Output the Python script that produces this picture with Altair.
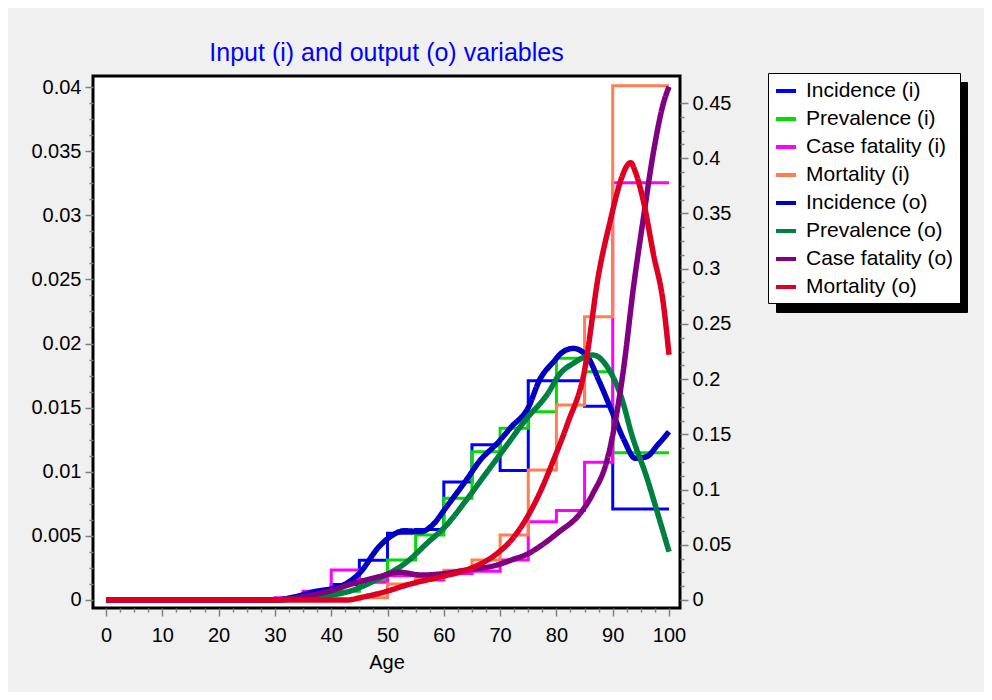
import altair as alt
import pandas as pd

names = ['Incidence (i)', 'Prevalence (i)', 'Case fatality (i)', 'Mortality (i)',
         'Incidence (o)', 'Prevalence (o)', 'Case fatality (o)', 'Mortality (o)']
colors = ['#0000ff', '#00dd00', '#ff00ff', '#ff7f50',
          '#0000c0', '#008040', '#800080', '#dd0022']

# input variables, 5-year age groups (last group 90-100), step lines
grp_age = [0, 5, 10, 15, 20, 25, 30, 35, 40, 45, 50, 55, 60, 65, 70, 75, 80, 85, 90, 100]
inc_i = [0, 0, 0, 0, 0, 0, 0.0001, 0.0005, 0.0012, 0.0031, 0.0052, 0.0055, 0.0092,
         0.0121, 0.0101, 0.0171, 0.0171, 0.0151, 0.0071, 0.0071]
prev_i = [0, 0, 0, 0, 0, 0, 0.001, 0.003, 0.008, 0.0185, 0.0362, 0.0589, 0.0921,
          0.1343, 0.1554, 0.1705, 0.2188, 0.2067, 0.1334, 0.1334]
cf_i = [0, 0, 0, 0, 0, 0, 0.002, 0.008, 0.0272, 0.016, 0.022, 0.018, 0.024,
        0.026, 0.0362, 0.0709, 0.081, 0.1247, 0.3779, 0.3779]
mort_i = [0, 0, 0, 0, 0, 0, 0, 0, 0, 0.002, 0.0145, 0.02, 0.027,
          0.0362, 0.0589, 0.1177, 0.1766, 0.2565, 0.4657, 0.4657]

# output variables
inc_o_age = [0, 30, 33, 37, 41.5, 45, 48.5, 50.5, 53, 56, 58, 60.5, 64, 66.5, 69.5,
             72, 75, 77, 79.5, 81, 83, 85.5, 87.5, 90, 92, 94, 96, 98, 100]
inc_o = [0, 0, 0.0002, 0.00065, 0.00104, 0.00208, 0.00416, 0.00494, 0.0054, 0.00533,
         0.00585, 0.00728, 0.00936, 0.01092, 0.01222, 0.0135, 0.015, 0.01715, 0.01858,
         0.0193, 0.01962, 0.01897, 0.01715, 0.01456, 0.01248, 0.01105, 0.01117, 0.0121, 0.01312]

prev_o_age = [0, 30, 33, 37, 43, 48.5, 53.5, 57, 60.5, 64, 67.5, 71, 74.5, 78.5, 80.5,
              83, 86.5, 89, 91.5, 93.5, 96, 98.5, 100]
prev_o = [0, 0, 0.001, 0.003, 0.0075, 0.0196, 0.0347, 0.0513, 0.0679, 0.0905, 0.1147,
          0.1388, 0.163, 0.1871, 0.204, 0.2143, 0.2218, 0.2113, 0.1841, 0.1479, 0.1117,
          0.0695, 0.0437]

cf_o_age = [0, 30, 35, 38, 40, 44, 48.5, 52, 56, 60.5, 64, 69.5, 72, 75, 77, 80.5,
            84, 86.5, 89, 91.9, 93.7, 95.4, 97.2, 99, 100]
cf_o = [0, 0, 0.003, 0.006, 0.0085, 0.0151, 0.0211, 0.0252, 0.0226, 0.0242, 0.0272,
        0.0317, 0.0362, 0.042, 0.0483, 0.0618, 0.077, 0.0966, 0.1268, 0.2083, 0.2837,
        0.3441, 0.4045, 0.4497, 0.4648]

mort_o_age = [0, 43, 45, 48.5, 54.5, 59.5, 64, 69.5, 72, 74.5, 77, 79.5, 82, 85, 87.5,
              89.5, 91.5, 92.5, 93.2, 94, 95.5, 97.2, 99, 100]
mort_o = [0, 0, 0.002, 0.006, 0.0151, 0.0211, 0.0272, 0.0423, 0.0543, 0.0724, 0.0966,
          0.1268, 0.16, 0.208, 0.295, 0.342, 0.381, 0.393, 0.396, 0.388, 0.36, 0.314,
          0.268, 0.222]


def frame(name, ages, vals):
    # 'shadow' repeats the name with a zero-width mark so its legend stays separate
    return pd.DataFrame({'age': ages, 'value': vals, 'series': name,
                         'shadow': name + '\u200b'})


in_left = frame('Incidence (i)', grp_age, inc_i)
in_right = pd.concat([frame('Prevalence (i)', grp_age, prev_i),
                      frame('Case fatality (i)', grp_age, cf_i),
                      frame('Mortality (i)', grp_age, mort_i)])
out_left = frame('Incidence (o)', inc_o_age, inc_o)
out_right = pd.concat([frame('Prevalence (o)', prev_o_age, prev_o),
                       frame('Case fatality (o)', cf_o_age, cf_o),
                       frame('Mortality (o)', mort_o_age, mort_o)])

FONT = 'Liberation Sans'

x_scale = alt.Scale(domain=[-2.31, 101.95], nice=False, zero=False)
yl_scale = alt.Scale(domain=[-0.000624, 0.040858], nice=False, zero=False)
yr_scale = alt.Scale(domain=[-0.00725, 0.47446], nice=False, zero=False)


def tick_axis(orient, values, major, fmt, title=None, pad=4, tpad=4):
    test = 'abs(datum.value * %s - round(datum.value * %s)) < 1e-6' % (major, major)
    return alt.Axis(orient=orient, values=values, format=fmt, title=title,
                    labelExpr="(%s) ? datum.label : ''" % test,
                    tickSize={'condition': {'test': test, 'value': 8}, 'value': 4},
                    tickColor='#808080', tickWidth=1.5, domain=False, grid=False,
                    labelFont=FONT, labelFontSize=20, labelColor='black', labelPadding=pad,
                    labelOverlap=False, labelFlush=False,
                    titleFont=FONT, titleFontSize=20, titleFontWeight='normal',
                    titleColor='black', titlePadding=tpad)


x_axis = tick_axis('bottom', [i * 2.5 for i in range(41)], 0.1, 'd', 'Age', pad=9, tpad=7)
left_axis = tick_axis('left', [round(i * 0.00125, 5) for i in range(33)], 200, '.3~f')
right_axis = tick_axis('right', [round(i * 0.0125, 4) for i in range(37)], 20, '.2~f')

legend_style = dict(title=None, orient='none', padding=6, symbolType='stroke',
                    symbolSize=400, symbolStrokeWidth=4, labelFont=FONT, labelFontSize=21,
                    rowPadding=6, labelLimit=300)
key = alt.Legend(legendX=675, legendY=-3, fillColor='white', strokeColor='black',
                 labelColor='black', labelOffset=8, zindex=2, **legend_style)
# drop shadow behind the key: same rows, no label text, widened by the label offset
shadow_key = alt.Legend(legendX=683, legendY=6, fillColor='black', strokeColor='black',
                        labelColor='black', symbolStrokeColor='black', labelExpr="''",
                        labelOffset=155, zindex=1, **legend_style)


def lines(df, y_scale, y_axis, width, interp):
    return alt.Chart(df).mark_line(interpolate=interp, strokeWidth=width, strokeCap='butt').encode(
        x=alt.X('age:Q', scale=x_scale, axis=x_axis),
        y=alt.Y('value:Q', scale=y_scale, axis=y_axis),
        color=alt.Color('series:N', scale=alt.Scale(domain=names, range=colors), legend=key),
        strokeDash=alt.StrokeDash('shadow:N',
                                  scale=alt.Scale(domain=[n + '\u200b' for n in names],
                                                  range=[[1, 0]] * 8),
                                  legend=shadow_key),
    )


chart = alt.layer(
    lines(in_left, yl_scale, left_axis, 3, 'step-after'),
    lines(in_right, yr_scale, right_axis, 3, 'step-after'),
    lines(out_left, yl_scale, None, 5.5, 'monotone'),
    lines(out_right, yr_scale, None, 5.5, 'monotone'),
).resolve_scale(y='independent').properties(
    width=587, height=532,
    padding={'left': 85, 'top': 68, 'right': 304, 'bottom': 84},
    autosize=alt.AutoSizeParams(type='none'),
    background='#f0f0f0',
    title=alt.TitleParams('Input (i) and output (o) variables', color='#0000ff', font=FONT,
                          fontSize=25, fontWeight='normal', anchor='middle', frame='group',
                          baseline='bottom', offset=7, dy=25),
).configure_view(stroke='black', strokeWidth=3, fill='white')

chart.save('out.html', embed_options={'renderer': 'svg', 'actions': False})
